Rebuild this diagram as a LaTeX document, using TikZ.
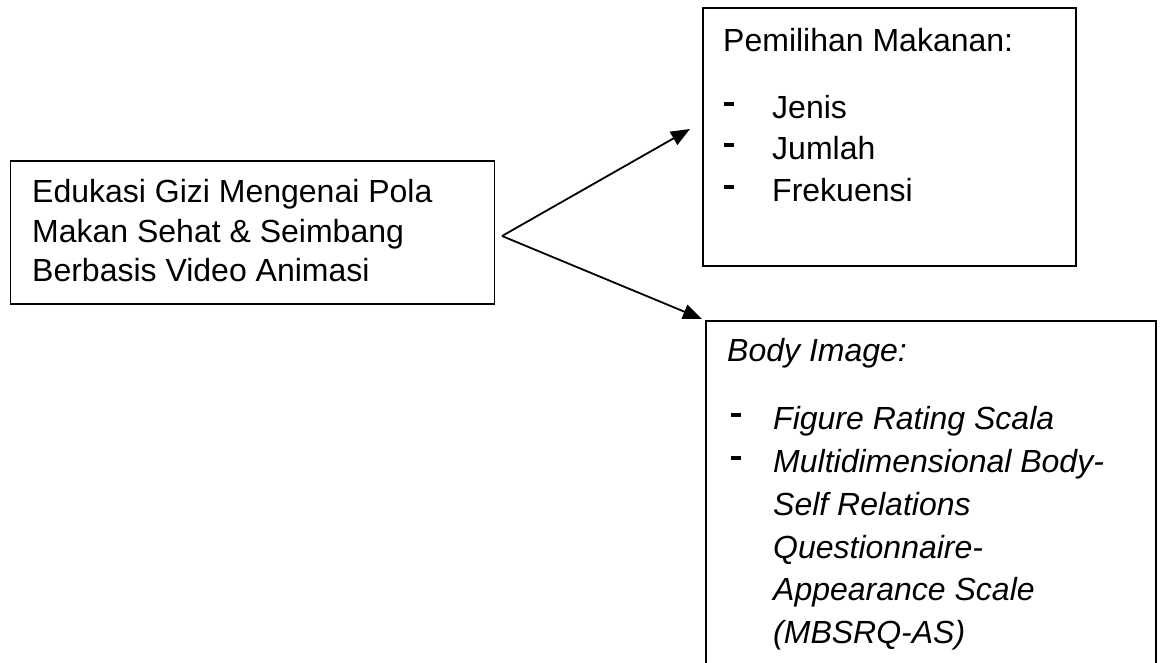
\documentclass[tikz,border=0pt]{standalone}
\usepackage{fontspec}
\setmainfont{Liberation Sans}
\usetikzlibrary{arrows.meta}
\tikzset{
  box/.style={draw=black, line width=1.9pt, rectangle, inner sep=0pt, anchor=north west},
  txt/.style={anchor=base west, inner sep=0pt, font=\fontsize{32}{38}\selectfont},
  itxt/.style={txt, font=\fontsize{32}{38}\selectfont\itshape},
  dashmark/.style={draw=black, line width=3.2pt},
  conn/.style={line width=1.8pt, -{Triangle[length=19pt,width=15pt]}}
}
\begin{document}
\begin{tikzpicture}[x=1pt,y=-1pt]
\useasboundingbox (0,0) rectangle (1161,662);
\clip (0,0) rectangle (1161,662);
\fill[white] (0,0) rectangle (1161,662);
% boxes
\node[box, minimum width=484pt, minimum height=143pt] (edu) at (9.5,160) {};
\node[box, minimum width=373pt, minimum height=258pt] (food) at (702,7) {};
\node[box, minimum width=450pt, minimum height=400pt] (body) at (705,320) {};
% left text
\node[txt] (e1) at (32,202) {Edukasi Gizi Mengenai Pola};
\node[txt] (e2) at (32,242) {Makan Sehat \& Seimbang};
\node[txt] (e3) at (32,281) {Berbasis Video Animasi};
% top right text
\node[txt] (f0) at (723,51) {Pemilihan Makanan:};
\node[txt] (f1) at (772,118) {Jenis};
\node[txt] (f2) at (772,159) {Jumlah};
\node[txt] (f3) at (772,201) {Frekuensi};
\foreach \yy/\nm in {118/fd1,159/fd2,201/fd3}{
  \coordinate (\nm a) at (724,\yy-14);
  \coordinate (\nm b) at (734,\yy-14);
  \draw[dashmark] (\nm a) -- (\nm b);
}
% bottom right text
\node[itxt] (b0) at (727,361) {Body Image:};
\node[itxt] (b1) at (773,429) {Figure Rating Scala};
\node[itxt] (b2) at (773,472) {Multidimensional Body-};
\node[itxt] (b3) at (773,515) {Self Relations};
\node[itxt] (b4) at (773,558) {Questionnaire-};
\node[itxt] (b5) at (773,600) {Appearance Scale};
\node[itxt] (b6) at (773,643) {(MBSRQ-AS)};
\foreach \yy/\nm in {429/bd1,472/bd2}{
  \coordinate (\nm a) at (731,\yy-14);
  \coordinate (\nm b) at (741,\yy-14);
  \draw[dashmark] (\nm a) -- (\nm b);
}
% connectors
\coordinate (apex) at (502,236);
\coordinate (tipfood) at (690,129);
\coordinate (tipbody) at (702,319);
\draw[conn] (apex) -- (tipfood);
\draw[conn] (apex) -- (tipbody);
\end{tikzpicture}
\end{document}
